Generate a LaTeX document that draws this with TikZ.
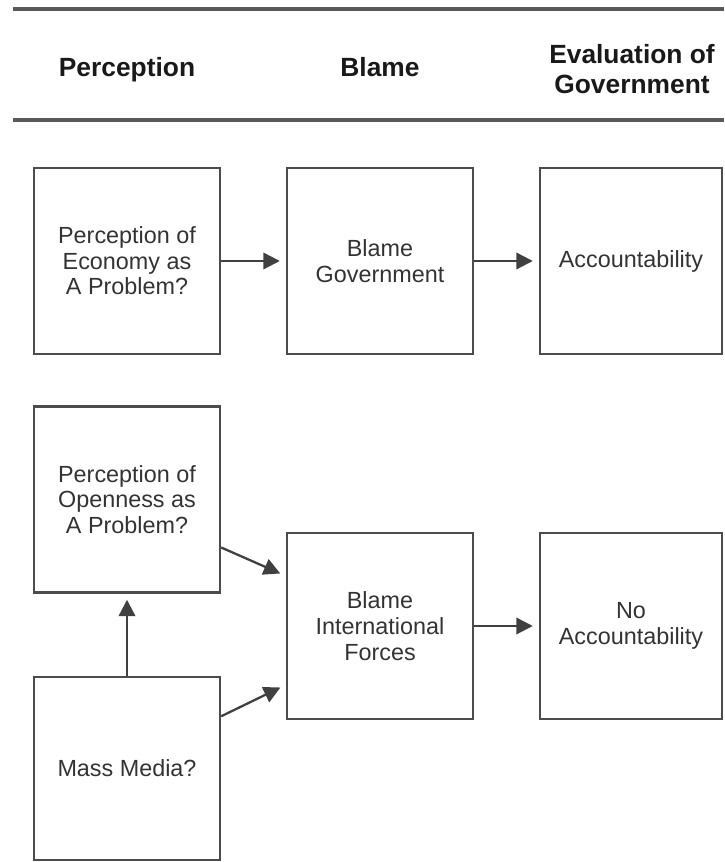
\documentclass[tikz,border=0pt]{standalone}
\usepackage{fontspec}
\setmainfont{Liberation Sans}
\usetikzlibrary{arrows.meta}

\begin{document}
\begin{tikzpicture}[
  box/.style={draw=black!70, line width=1.4pt, minimum width=3.72cm, minimum height=3.72cm,
    inner sep=0pt, align=center, text=black!80, font=\fontsize{13.3}{14.6}\selectfont},
  head/.style={align=center, text=black!90, font=\bfseries\fontsize{15}{17}\selectfont},
  rule/.style={draw=black!65, line width=1.8pt},
  arr/.style={draw=black!75, line width=1.3pt, -{Triangle[length=3.3mm,width=3.3mm]}, shorten >=1.2mm}
]
\useasboundingbox (0,0) rectangle (14.48,17.24);
%% header
\draw[rule] (0.26,17.06) -- (14.48,17.06);
\draw[rule] (0.26,14.84) -- (14.48,14.84);
\node[head, anchor=base] (hPerc) at (2.54,15.70) {Perception};
\node[head, anchor=base] (hBlame) at (7.6,15.70) {Blame};
\node[head] (hEval) at (12.64,15.86) {Evaluation of\\Government};
%% nodes
\node[box] (PercEcon) at (2.54,12.02) {Perception of\\Economy as\\A Problem?};
\node[box] (BlameGov) at (7.6,12.02) {Blame\\Government};
\node[box, minimum width=3.64cm] (Acc) at (12.62,12.02) {Accountability};
\node[box] (PercOpen) at (2.54,7.25) {Perception of\\Openness as\\A Problem?};
\node[box] (BlameInt) at (7.6,4.72) {Blame\\International\\Forces};
\node[box, minimum width=3.64cm] (NoAcc) at (12.62,4.72) {No\\Accountability};
\node[box, minimum height=3.66cm] (Media) at (2.54,1.87) {Mass Media?};
%%% edges
\draw[arr] (PercEcon) -- (BlameGov);
\draw[arr] (BlameGov) -- (Acc);
\draw[arr] (BlameInt) -- (NoAcc);
\draw[arr] (PercOpen.-27.5) -- (BlameInt.152.2);
\draw[arr] (Media.29.9) -- (BlameInt.-148.5);
\draw[arr] (Media.north) -- (PercOpen.south);
\end{tikzpicture}
\end{document}
